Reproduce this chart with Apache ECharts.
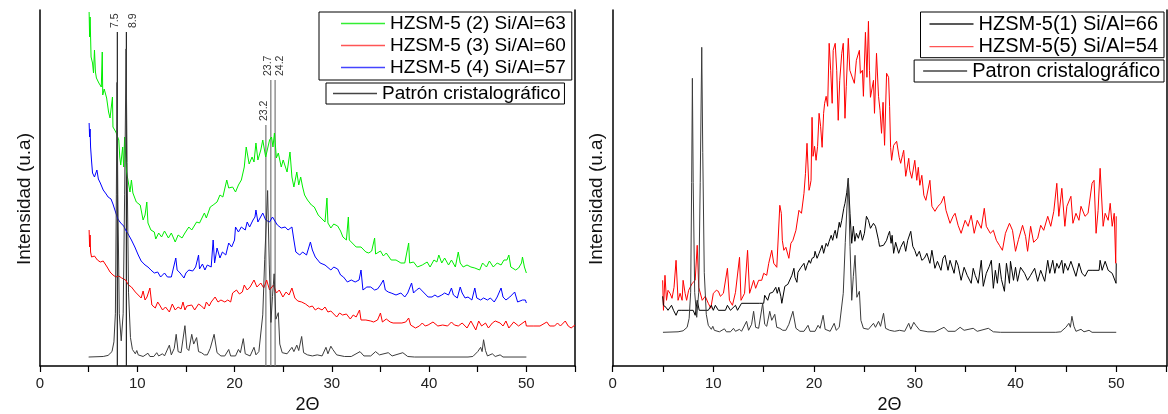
<!DOCTYPE html>
<html>
<head>
<meta charset="utf-8">
<script src="https://cdn.jsdelivr.net/npm/echarts@6/dist/echarts.min.js"></script>
<style>
  html, body { margin: 0; padding: 0; background: #fff; }
  #chart { width: 1168px; height: 414px; }
</style>
</head>
<body>
<div id="chart"></div>
<script>
// ---------- DATA (2θ, intensity in arbitrary units) ----------
// Crystallographic pattern (same in both panels)
const patternData = [[5,0],[6.5,0.5],[7.0,1.5],[7.4,5],[7.6,14],[7.75,40],[7.85,150],[7.92,254],[8.0,150],[8.15,40],[8.35,15],[8.55,40],[8.7,150],[8.85,285],[8.95,180],[9.1,60],[9.3,18],[9.5,7],[9.8,3],[9.95,6],[10.1,2],[10.6,0.5],[11.1,3.5],[11.3,0.5],[11.7,0.5],[12.0,4],[12.2,1],[12.6,3],[12.8,1],[13.3,11],[13.5,2],[13.8,8],[14.0,21],[14.2,5],[14.5,4],[14.9,29],[15.1,8],[15.3,6],[15.6,21],[15.8,12],[16.1,18],[16.3,5],[16.6,4],[16.9,2],[17.2,2],[17.5,8],[17.9,21],[18.2,4],[18.6,1],[19.0,1],[19.4,7],[19.6,1],[20.1,1],[20.4,7],[20.6,4],[20.9,17],[21.1,3],[21.6,1],[22.0,9],[22.2,2],[22.5,5],[22.9,39],[23.1,90],[23.4,154],[23.57,86],[23.74,32],[23.9,56],[24.07,77],[24.25,35],[24.5,41],[24.65,12],[24.9,4],[25.4,3],[25.9,9],[26.1,5],[26.4,11],[26.6,6],[26.9,19],[27.1,4],[27.5,2],[28.0,1],[28.5,2],[29.0,1],[29.4,9],[29.6,3],[29.9,10],[30.1,7],[30.5,2],[31.3,0.5],[32.0,0.5],[32.9,5],[33.3,1],[34.0,1],[34.5,5],[34.9,2],[35.8,4],[36.2,1],[37.3,4],[37.8,0.5],[38.5,0],[44.0,0],[44.5,0.5],[45.0,5],[45.3,9],[45.45,5],[45.6,16],[45.8,6],[46.0,1],[46.5,3],[46.8,0.5],[47.3,2],[47.6,0],[50,0]];

// Left panel samples
const green63 = [[5.05,345],[5.1,320],[5.15,340],[5.25,300],[5.4,294],[5.5,284],[5.6,307],[5.7,285],[5.8,279],[6.05,274],[6.3,270],[6.4,305],[6.45,262],[6.6,268],[6.85,259],[7.05,245],[7.2,239],[7.45,260],[7.5,230],[7.8,225],[8.1,217],[8.2,200],[8.3,192],[8.5,210],[8.6,190],[8.7,220],[8.9,185],[9.25,165],[9.4,177],[9.55,164],[9.9,155],[10.3,152],[10.6,137],[10.8,142],[10.98,155],[11.1,134],[11.4,127],[11.75,125],[11.9,118],[12.2,124],[12.5,120],[12.8,126],[13.2,119],[13.5,124],[13.9,115],[14.2,122],[14.6,119],[14.9,124],[15.3,130],[15.6,127],[16.1,135],[16.4,134],[16.9,144],[17.1,139],[17.5,150],[17.8,152],[18.2,155],[18.5,162],[18.8,160],[19.2,177],[19.4,169],[19.8,170],[20.1,165],[20.4,172],[20.7,177],[21.0,190],[21.2,210],[21.5,193],[21.8,200],[22.0,195],[22.2,214],[22.4,197],[22.7,207],[22.9,217],[23.2,200],[23.6,217],[23.8,220],[23.95,210],[24.1,224],[24.3,199],[24.5,204],[24.8,190],[25.0,197],[25.2,199],[25.4,185],[25.7,205],[25.9,180],[26.1,170],[26.4,185],[26.6,172],[26.8,180],[27.0,170],[27.2,162],[27.5,157],[27.9,152],[28.2,150],[28.6,142],[28.9,139],[29.3,135],[29.5,159],[29.6,134],[29.9,129],[30.2,133],[30.6,131],[30.9,126],[31.14,120],[31.5,117],[31.7,140],[31.8,117],[32.1,114],[32.5,110],[33.0,110],[33.5,105],[33.8,104],[34.1,106],[34.4,119],[34.5,103],[35.0,106],[35.3,101],[35.6,104],[36.1,97],[36.6,97],[37.1,94],[37.5,94],[37.9,114],[38.0,94],[38.4,95],[38.8,90],[39.3,92],[39.8,95],[40.1,90],[40.5,97],[40.8,95],[41.0,102],[41.3,94],[41.6,99],[42.0,92],[42.3,97],[42.7,90],[43.0,105],[43.2,94],[43.5,90],[43.9,92],[44.3,90],[44.7,89],[45.2,87],[45.5,94],[45.9,90],[46.2,96],[46.6,90],[47.0,94],[47.4,92],[47.7,97],[48.0,97],[48.2,102],[48.4,90],[48.9,87],[49.2,89],[49.5,94],[49.6,100],[49.8,90],[50.0,84]];

const red60 = [[5.05,127],[5.1,110],[5.15,122],[5.2,105],[5.3,100],[5.6,101],[5.9,97],[6.2,95],[6.5,96],[6.9,90],[7.2,85],[7.5,82],[7.8,80],[8.1,81],[8.4,79],[8.8,77],[9.1,72],[9.4,70],[9.8,65],[10.1,62],[10.4,59],[10.6,66],[10.8,57],[11.0,60],[11.3,69],[11.5,52],[11.85,49],[12.1,55],[12.3,52],[12.6,47],[12.9,50],[13.3,45],[13.6,53],[13.9,47],[14.2,50],[14.5,48],[14.7,55],[14.9,47],[15.1,51],[15.3,49],[15.6,52],[15.9,47],[16.3,53],[16.6,51],[16.9,48],[17.1,55],[17.4,51],[17.6,55],[18.0,60],[18.3,55],[18.6,57],[19.0,55],[19.3,57],[19.6,55],[19.8,64],[20.2,67],[20.5,63],[20.8,65],[21.0,72],[21.3,67],[21.6,70],[22.0,77],[22.3,70],[22.7,74],[23.0,69],[23.3,77],[23.6,67],[23.8,69],[24.0,72],[24.3,64],[24.6,67],[24.97,60],[25.3,65],[25.6,62],[25.9,69],[26.2,59],[26.5,56],[26.9,55],[27.3,53],[27.7,50],[28.0,51],[28.3,47],[28.6,49],[29.0,47],[29.3,50],[29.6,45],[29.9,46],[30.2,43],[30.5,40],[30.8,44],[31.1,42],[31.5,43],[31.9,38],[32.2,42],[32.5,40],[32.85,47],[33.0,37],[33.5,37],[34.0,36],[34.3,35],[34.7,37],[35.0,44],[35.2,35],[35.6,38],[36.0,35],[36.3,34],[36.7,34],[37.2,34],[37.6,35],[37.9,39],[38.1,32],[38.6,29],[39.0,31],[39.3,34],[39.6,31],[39.9,32],[40.4,35],[40.9,31],[41.4,32],[41.9,31],[42.3,35],[42.6,32],[43.0,31],[43.4,34],[43.9,29],[44.3,36],[44.8,27],[45.1,36],[45.4,31],[45.8,34],[46.1,29],[46.5,34],[46.8,36],[47.3,34],[47.6,31],[47.9,36],[48.2,29],[48.7,35],[49.2,31],[49.9,36],[50.0,31],[50.7,31],[51.4,31],[52.1,35],[52.4,31],[52.9,31],[53.2,34],[53.5,31],[54.0,36],[54.3,31],[54.6,29],[55.0,32]];

const blue57 = [[5.05,234],[5.1,220],[5.15,228],[5.2,210],[5.3,196],[5.4,184],[5.6,180],[5.85,187],[6.0,178],[6.2,174],[6.5,167],[6.8,163],[7.0,160],[7.3,158],[7.5,153],[7.8,144],[8.0,138],[8.3,134],[8.6,131],[8.8,127],[9.0,124],[9.4,117],[9.75,110],[10.1,102],[10.4,96],[10.8,92],[11.1,90],[11.4,87],[11.75,84],[12.1,85],[12.4,80],[12.8,84],[13.1,80],[13.5,80],[13.96,99],[14.1,87],[14.4,84],[14.8,79],[15.0,84],[15.3,87],[15.7,86],[16.0,90],[16.3,102],[16.4,88],[16.7,93],[16.95,87],[17.2,92],[17.6,90],[17.8,117],[17.95,94],[18.2,109],[18.5,99],[18.75,105],[19.1,102],[19.4,114],[19.7,110],[20.0,117],[20.1,130],[20.4,125],[20.7,130],[21.1,127],[21.3,135],[21.55,130],[21.9,137],[22.1,140],[22.2,147],[22.4,135],[22.9,144],[23.2,137],[23.6,135],[23.9,140],[24.1,142],[24.4,132],[24.8,129],[25.2,130],[25.5,127],[25.9,130],[26.1,117],[26.3,105],[26.7,102],[27.0,105],[27.4,102],[27.8,115],[28.0,107],[28.3,100],[28.8,94],[29.3,92],[29.9,87],[30.2,90],[30.6,88],[30.9,82],[31.2,80],[31.6,75],[32.0,77],[32.4,75],[32.8,77],[33.0,87],[33.2,67],[33.6,70],[34.0,70],[34.4,67],[34.7,68],[35.0,72],[35.3,77],[35.5,67],[35.8,65],[36.1,64],[36.6,62],[37.1,64],[37.5,60],[37.8,64],[38.2,74],[38.4,64],[38.7,67],[39.0,69],[39.4,65],[39.6,67],[39.9,60],[40.3,60],[40.6,62],[40.9,60],[41.3,62],[41.6,64],[42.0,62],[42.3,69],[42.5,62],[42.9,59],[43.2,70],[43.4,64],[43.7,59],[44.0,60],[44.4,57],[44.7,69],[44.9,59],[45.3,57],[45.6,59],[46.0,57],[46.3,59],[46.7,55],[47.0,60],[47.4,69],[47.6,60],[47.9,57],[48.3,60],[48.8,65],[49.1,55],[49.6,57],[49.9,57],[50.0,54]];

// Right panel samples
const black66 = [[4.97,36],[5.05,27],[5.3,25],[5.5,22],[5.85,27],[6.05,22],[6.3,17],[6.5,22],[6.8,22],[7.5,22],[8.0,22],[8.2,17],[8.4,32],[8.6,22],[9.5,22],[9.8,27],[10.0,22],[10.2,27],[10.5,22],[11.2,22],[11.4,27],[11.7,22],[12.2,27],[12.4,22],[12.8,29],[14.6,29],[15.0,29],[15.1,37],[15.4,32],[15.6,39],[15.9,40],[16.2,45],[16.35,39],[16.5,45],[16.7,36],[16.8,29],[17.1,46],[17.4,48],[17.8,57],[18.0,64],[18.1,55],[18.3,50],[18.4,60],[18.5,59],[18.7,65],[19.0,69],[19.15,62],[19.3,67],[19.5,72],[19.65,69],[19.8,74],[20.0,75],[20.1,81],[20.3,74],[20.5,79],[20.8,87],[20.95,79],[21.2,89],[21.35,86],[21.5,91],[21.7,97],[21.85,92],[22.0,99],[22.1,102],[22.25,94],[22.5,110],[22.6,105],[22.75,112],[22.95,124],[23.07,129],[23.25,140],[23.4,154],[23.57,119],[23.74,89],[23.9,106],[24.05,91],[24.2,99],[24.4,94],[24.6,102],[24.8,92],[25.0,99],[25.2,116],[25.4,112],[25.6,104],[25.9,109],[26.1,106],[26.4,92],[26.5,86],[26.9,87],[27.2,92],[27.35,97],[27.5,101],[27.65,89],[27.75,97],[27.9,79],[28.1,90],[28.4,79],[28.6,85],[28.9,91],[29.1,81],[29.3,92],[29.6,101],[29.8,86],[30.0,82],[30.2,76],[30.45,81],[30.7,72],[30.95,74],[31.2,79],[31.5,69],[31.7,82],[32.0,64],[32.25,71],[32.6,62],[32.8,74],[33.0,77],[33.3,62],[33.5,72],[33.9,59],[34.1,72],[34.3,67],[34.6,52],[34.9,65],[35.2,57],[35.6,49],[35.8,64],[36.0,57],[36.3,49],[36.6,72],[36.8,46],[37.1,59],[37.4,66],[37.6,72],[37.8,44],[38.0,62],[38.2,49],[38.4,69],[38.6,53],[38.9,41],[39.1,69],[39.4,49],[39.5,71],[39.8,52],[40.0,65],[40.2,51],[40.5,65],[40.9,59],[41.2,52],[41.5,57],[41.9,64],[42.2,51],[42.5,62],[42.9,51],[43.2,72],[43.4,59],[43.7,72],[43.9,59],[44.1,69],[44.3,64],[44.6,72],[44.75,59],[44.9,69],[45.2,62],[45.5,71],[46.0,56],[46.3,69],[46.6,59],[46.9,56],[47.2,62],[47.6,62],[48.3,62],[48.4,72],[48.6,62],[48.9,71],[49.2,62],[49.6,59],[49.98,49],[50.0,69]];

const red54 = [[4.97,52],[5.05,22],[5.2,57],[5.35,32],[5.5,42],[5.7,39],[5.9,34],[6.1,45],[6.3,72],[6.5,32],[6.7,39],[6.9,32],[7.0,52],[7.2,39],[7.35,32],[7.55,42],[7.9,49],[8.2,52],[8.4,87],[8.55,45],[8.9,32],[9.2,36],[9.5,29],[9.75,24],[9.9,26],[10.0,39],[10.3,42],[10.5,41],[10.7,36],[11.0,39],[11.4,64],[11.6,32],[11.9,27],[12.2,40],[12.6,75],[12.75,32],[13.1,39],[13.4,82],[13.6,39],[14.0,52],[14.2,44],[14.5,52],[14.8,52],[15.0,59],[15.3,57],[15.5,69],[15.8,82],[16.0,69],[16.3,65],[16.6,127],[16.75,119],[16.85,92],[17.0,82],[17.2,85],[17.5,74],[17.7,89],[17.9,92],[18.2,102],[18.5,122],[18.75,119],[19.0,139],[19.15,159],[19.3,189],[19.5,142],[19.6,146],[19.7,152],[19.8,215],[19.9,176],[20.05,186],[20.2,172],[20.35,186],[20.5,219],[20.65,206],[20.8,185],[20.95,219],[21.05,229],[21.2,236],[21.35,226],[21.5,289],[21.65,262],[21.8,229],[21.9,282],[22.1,289],[22.25,262],[22.4,212],[22.55,252],[22.75,279],[22.9,289],[23.07,214],[23.2,246],[23.4,294],[23.55,262],[23.74,262],[24.0,249],[24.2,272],[24.5,282],[24.6,259],[24.8,262],[24.9,236],[25.1,300],[25.25,255],[25.4,311],[25.5,262],[25.6,235],[25.9,252],[26.0,219],[26.2,279],[26.4,236],[26.55,222],[26.7,199],[26.85,230],[27.0,187],[27.2,259],[27.4,255],[27.5,226],[27.6,185],[27.7,172],[27.9,187],[28.2,191],[28.45,175],[28.6,169],[28.8,178],[28.9,182],[29.1,156],[29.4,174],[29.5,162],[29.7,154],[30.0,172],[30.2,152],[30.35,165],[30.5,147],[30.7,157],[30.9,137],[31.1,132],[31.5,152],[31.7,126],[32.0,121],[32.3,126],[32.6,129],[32.9,136],[33.1,122],[33.5,109],[33.8,116],[34.0,119],[34.3,107],[34.6,99],[35.0,112],[35.3,106],[35.6,117],[35.9,99],[36.2,112],[36.6,104],[36.9,124],[37.1,106],[37.5,99],[37.8,102],[38.1,92],[38.4,87],[38.7,82],[39.0,99],[39.4,109],[39.7,102],[40.0,81],[40.3,93],[40.7,107],[41.0,96],[41.2,81],[41.5,106],[41.8,90],[42.2,94],[42.5,107],[42.8,102],[43.2,116],[43.5,106],[43.8,121],[44.1,149],[44.3,116],[44.6,144],[44.9,106],[45.1,126],[45.5,136],[45.7,109],[46.0,119],[46.3,112],[46.5,126],[46.9,116],[47.2,119],[47.6,149],[47.8,152],[48.0,99],[48.2,122],[48.4,164],[48.5,162],[48.7,106],[48.9,119],[49.2,112],[49.4,129],[49.6,106],[49.8,119],[49.95,69],[50.0,116]];

// Reflection markers in the left panel (position, height, label)
const dropX = [7.95, 8.88, 23.22, 23.73, 24.17];
const dropTop = [325, 325, 232, 277, 277];
const dropLabel = ['7.5', '8.9', '23.2', '23.7', '24.2'];

const xTickLabels = [0, 10, 20, 30, 40, 50];

// Series / legend names
const N_G = 'HZSM-5 (2) Si/Al=63';
const N_R = 'HZSM-5 (3) Si/Al=60';
const N_B = 'HZSM-5 (4) Si/Al=57';
const N_PL = 'Patrón cristalográfico';
const N_K1 = 'HZSM-5(1) Si/Al=66';
const N_R5 = 'HZSM-5(5) Si/Al=54';
const N_PR = 'Patron cristalográfico';

// ---------- STYLES ----------
const FONT = "'Liberation Sans', Arial, sans-serif";
const dropColor = ['#222', '#222', '#777', '#777', '#777'];
const dropDx = [-2, 6.5, -2, -2.5, 5];

const chart = echarts.init(document.getElementById('chart'), null, { renderer: 'canvas' });

function xAxisCfg(gi) {
  return {
    type: 'value', gridIndex: gi, min: 0, max: 55, interval: 5,
    name: '2Θ', nameLocation: 'middle', nameGap: 29,
    nameTextStyle: { fontFamily: FONT, fontSize: 18, color: '#111' },
    axisLine: { show: true, onZero: false, lineStyle: { color: '#000', width: 1.5 } },
    axisTick: { show: true, length: 6, lineStyle: { color: '#000', width: 1.2 } },
    axisLabel: {
      fontFamily: FONT, fontSize: 15, color: '#222', margin: 10.5,
      formatter: v => xTickLabels.indexOf(v) >= 0 ? String(v) : ''
    },
    splitLine: { show: false }
  };
}
function yAxisCfg(gi, min, max, pos, withName) {
  return {
    type: 'value', gridIndex: gi, min: min, max: max, position: pos,
    name: withName ? 'Intensidad (u.a)' : '', nameLocation: 'middle', nameGap: 6,
    nameTextStyle: { fontFamily: FONT, fontSize: 19, color: '#111', padding: [0, 22, 0, 0] },
    axisLine: { show: true, onZero: false, lineStyle: { color: '#000', width: 1.5 } },
    axisTick: { show: false }, axisLabel: { show: false }, splitLine: { show: false }
  };
}
function lineSeries(name, data, color, xi, yi) {
  return {
    type: 'line', name: name, data: data, xAxisIndex: xi, yAxisIndex: yi,
    color: color, showSymbol: false, symbol: 'none', animation: false,
    lineStyle: { color: color, width: 1 }, itemStyle: { color: color },
    emphasis: { disabled: true }
  };
}
function legendCfg(names, colors, pos, padding, gap, fs) {
  return Object.assign({
    data: names.map((n, i) => ({ name: n, icon: 'rect', itemStyle: { color: colors[i], borderWidth: 0 } })),
    orient: 'vertical', selectedMode: false,
    itemWidth: 44, itemHeight: 1.3, itemGap: gap,
    borderColor: '#000', borderWidth: 1, padding: padding,
    textStyle: { fontFamily: FONT, fontSize: fs, color: '#000' }
  }, pos);
}

const option = {
  backgroundColor: '#fff',
  animation: false,
  grid: [
    { left: 40, top: 10, width: 535, height: 356, containLabel: false, outerBoundsMode: 'none' },
    { left: 612.6, top: 10, width: 554, height: 356, containLabel: false, outerBoundsMode: 'none' }
  ],
  xAxis: [xAxisCfg(0), xAxisCfg(1)],
  yAxis: [
    yAxisCfg(0, -9, 347, 'left', true),
    yAxisCfg(0, -8.3, 321, 'right', false),
    yAxisCfg(1, -33.7, 322.3, 'left', true),
    yAxisCfg(1, -33.7, 322.3, 'right', false)
  ],
  legend: [
    legendCfg([N_G, N_R, N_B], ['#33ee33', '#ff5555', '#4444ff'], { left: 319, top: 12 }, [2, 6, 3, 22], 3, 19),
    legendCfg([N_PL], ['#444444'], { left: 326, top: 83 }, [1, 4, 1, 7], 3, 19),
    legendCfg([N_K1, N_R5], ['#222222', '#ff5555'], { right: 4, top: 12 }, [2, 6, 1, 9], 2.7, 20),
    legendCfg([N_PR], ['#444444'], { right: 4, top: 60 }, [1, 4, 1, 9], 3, 20)
  ],
  series: [
    lineSeries(N_G, green63, '#00ee00', 0, 0),
    lineSeries(N_B, blue57, '#0000ff', 0, 0),
    lineSeries(N_R, red60, '#ff0000', 0, 0),
    lineSeries(N_PL, patternData, '#3c3c3c', 0, 1),
    {
      type: 'custom', name: 'marks', xAxisIndex: 0, yAxisIndex: 0, animation: false, silent: true,
      data: dropX.map((x, i) => [x, dropTop[i]]),
      encode: { x: 0, y: 1 },
      renderItem: function (params, api) {
        const i = params.dataIndex;
        const x = api.value(0), top = api.value(1);
        const p1 = api.coord([x, -9]);
        const p2 = api.coord([x, top]);
        return {
          type: 'group',
          children: [
            { type: 'line', shape: { x1: p1[0], y1: p1[1], x2: p2[0], y2: p2[1] },
              style: { stroke: dropColor[i], lineWidth: 1.2 } },
            { type: 'text', x: p2[0] + dropDx[i], y: p2[1] - 4, rotation: Math.PI / 2,
              style: { text: dropLabel[i], fontFamily: FONT, fontSize: 10.5, fill: '#333',
                       align: 'left', verticalAlign: 'middle' } }
          ]
        };
      }
    },
    lineSeries(N_R5, red54, '#ff0000', 1, 2),
    lineSeries(N_K1, black66, '#000000', 1, 2),
    lineSeries(N_PR, patternData, '#3c3c3c', 1, 2)
  ]
};
chart.setOption(option);
</script>
</body>
</html>
